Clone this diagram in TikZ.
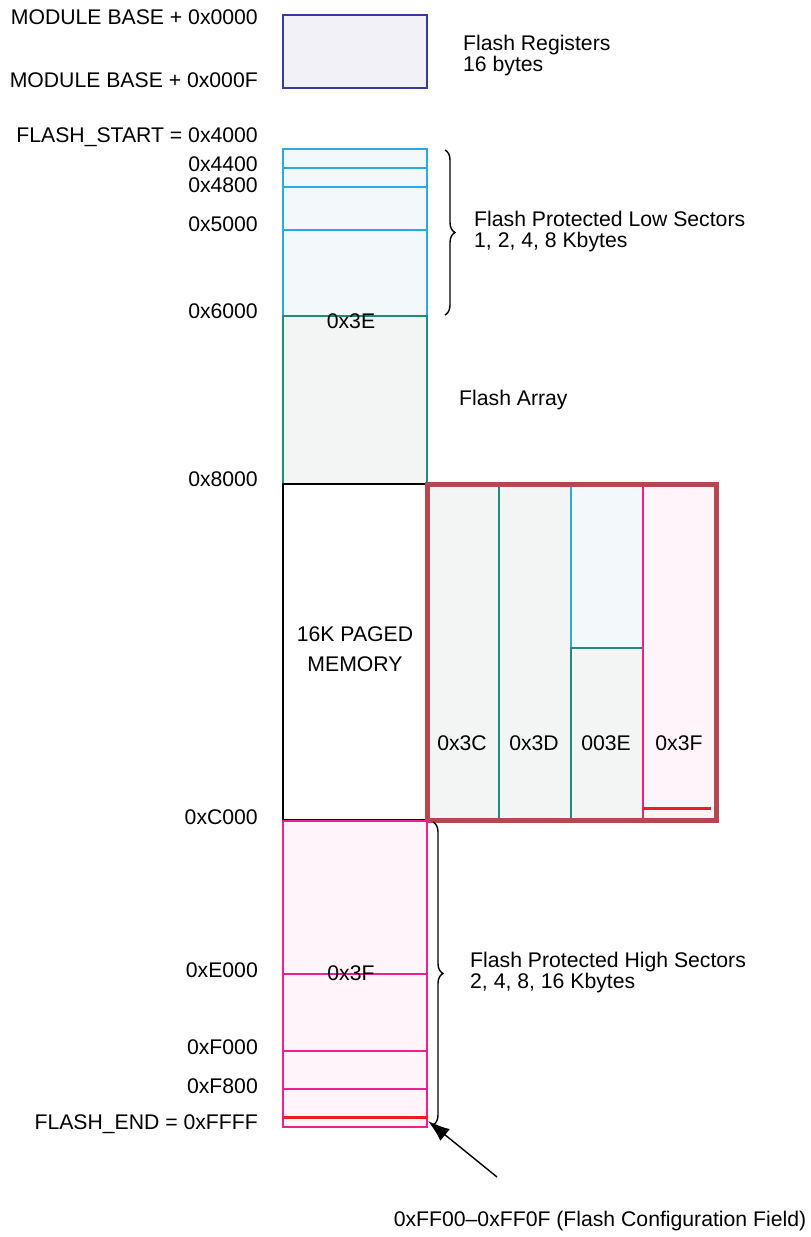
\documentclass[tikz,border=0pt]{standalone}
\usepackage{fontspec}
\setmainfont{Liberation Sans}
\usetikzlibrary{decorations.pathreplacing,arrows.meta}
\definecolor{regc}{HTML}{3A3A9E}
\definecolor{regf}{HTML}{F2F1F8}
\definecolor{cyanc}{HTML}{2AAAE0}
\definecolor{cyanf}{HTML}{F3F8FB}
\definecolor{tealc}{HTML}{1F8C7C}
\definecolor{tealf}{HTML}{F3F4F4}
\definecolor{pinkc}{HTML}{EC2090}
\definecolor{pinkf}{HTML}{FEF4F9}
\definecolor{redl}{HTML}{EE1C25}
\definecolor{frame}{HTML}{B4474F}
\begin{document}
\begin{tikzpicture}[x=1pt,y=-1pt,
  font=\fontsize{21.2}{25}\selectfont,
  blk/.style={draw, inner sep=0, anchor=north west, line width=1.6pt},
  regbox/.style={blk, draw=regc, fill=regf},
  cybox/.style={blk, draw=cyanc, fill=cyanf},
  tebox/.style={blk, draw=tealc, fill=tealf},
  pkbox/.style={blk, draw=pinkc, fill=pinkf},
  lbl/.style={anchor=east, inner sep=0},
  txt/.style={anchor=west, inner sep=0, align=left},
  ctr/.style={inner sep=0},
  brc/.style={decorate, decoration={brace, amplitude=10pt}, line width=1.4pt},
  redline/.style={draw=redl, line width=3pt}
]
\useasboundingbox (0,0) rectangle (811,1237);

% Flash registers
\node[regbox, minimum width=144, minimum height=73] (reg) at (282,14) {};
\node[lbl] (mb0) at (258,17) {MODULE BASE + 0x0000};
\node[lbl] (mbf) at (258,80) {MODULE BASE + 0x000F};
\node[txt] (regt) at (463,56) {Flash Registers\\[-4pt]16 bytes};

% Low sectors
\node[cybox, minimum width=144, minimum height=19] (s1) at (282,148) {};
\node[cybox, minimum width=144, minimum height=19] (s2) at (282,167) {};
\node[cybox, minimum width=144, minimum height=43] (s3) at (282,186) {};
\node[cybox, minimum width=144, minimum height=86] (s4) at (282,229) {};
\node[lbl] (a4000) at (258,137) {FLASH\_START = 0x4000};
\node[lbl] (a4400) at (258,164) {0x4400};
\node[lbl] (a4800) at (258,185) {0x4800};
\node[lbl] (a5000) at (258,224) {0x5000};
\node[lbl] (a6000) at (258,311) {0x6000};
\draw[brc] (445,150) -- (445,315);
\node[txt] (lowt) at (474,232) {Flash Protected Low Sectors\\[-4pt]1, 2, 4, 8 Kbytes};

% Flash array
\node[tebox, minimum width=144, minimum height=168] (arr) at (282,315) {};
\node[ctr] (p3e) at (351,321) {0x3E};
\node[txt] (arrt) at (459,400) {Flash Array};
\node[lbl] (a8000) at (258,479) {0x8000};

% Paged memory
\node[blk, draw=black, minimum width=144, minimum height=336] (paged) at (282,483) {};
\node[ctr, align=center] (pagedt) at (355,649) {16K PAGED\\[5pt]MEMORY};

% Page columns
\node[tebox, minimum width=71, minimum height=336] (c3c) at (427,484) {};
\node[tebox, minimum width=72, minimum height=336] (c3d) at (498,484) {};
\node[cybox, minimum width=72, minimum height=163] (c3eu) at (570,484) {};
\node[tebox, minimum width=72, minimum height=173] (c3el) at (570,647) {};
\node[pkbox, minimum width=74, minimum height=336] (c3f) at (642,484) {};
\draw[redline] (642,808) -- (711,808);
\draw[draw=frame, line width=5pt] (427,484) rectangle (716,820);
\node[ctr] (l3c) at (462,743) {0x3C};
\node[ctr] (l3d) at (534,743) {0x3D};
\node[ctr] (l3e) at (606,743) {003E};
\node[ctr] (l3f) at (679,743) {0x3F};
\node[lbl] (ac000) at (258,817) {0xC000};

% High sectors
\node[pkbox, minimum width=144, minimum height=153] (h1) at (282,820) {};
\node[pkbox, minimum width=144, minimum height=77] (h2) at (282,973) {};
\node[pkbox, minimum width=144, minimum height=38] (h3) at (282,1050) {};
\node[pkbox, minimum width=144, minimum height=38] (h4) at (282,1088) {};
\draw[redline] (282,1117) -- (428,1117);
\node[ctr] (p3f) at (351,973) {0x3F};
\node[lbl] (ae000) at (258,970) {0xE000};
\node[lbl] (af000) at (258,1047) {0xF000};
\node[lbl] (af800) at (258,1086) {0xF800};
\node[lbl] (affff) at (258,1124) {FLASH\_END = 0xFFFF};
\draw[brc] (433,822) -- (433,1125);
\node[txt] (hight) at (470,973) {Flash Protected High Sectors\\[-4pt]2, 4, 8, 16 Kbytes};

% Configuration field
\node[ctr] (cfg) at (600,1221) {0xFF00--0xFF0F (Flash Configuration Field)};
\coordinate (cfgfrom) at (497,1177);
\coordinate (cfgtip) at (428,1121);
\draw[line width=1.4pt, -{Latex[length=22pt,width=15pt]}] (cfgfrom) -- (cfgtip);
\end{tikzpicture}
\end{document}
